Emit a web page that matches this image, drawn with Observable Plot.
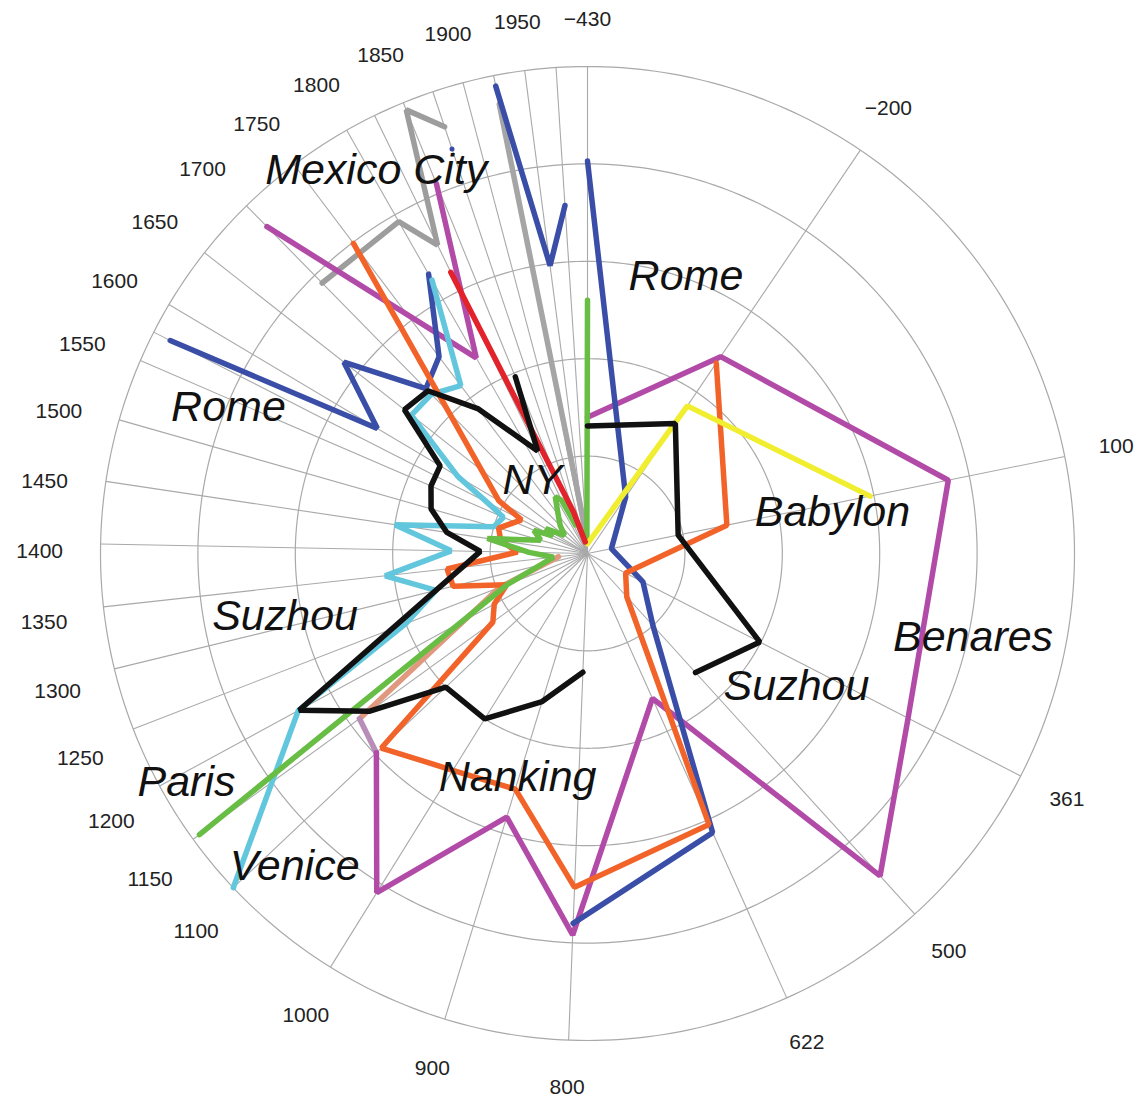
<!DOCTYPE html>
<html><head><meta charset="utf-8">
<script src="https://cdn.jsdelivr.net/npm/d3@7"></script>
<script src="https://cdn.jsdelivr.net/npm/@observablehq/plot@0.6"></script>
<style>body{margin:0;background:#fff}#chart svg{display:block}</style>
</head><body><div id="chart"></div>
<script>
// ---------- data ----------
const spokeYears = [-430,-200,100,361,500,622,800,900,1000,1100,1150,1200,1250,1300,1350,1400,1450,1500,1550,1575,1600,1650,1700,1750,1800,1825,1850,1875,1900,1925,1950,1975];
const tickYears = [-430,-200,100,361,500,622,800,900,1000,1100,1150,1200,1250,1300,1350,1400,1450,1500,1550,1600,1650,1700,1750,1800,1850,1900,1950];
const tickLabels = ["\u2212430","\u2212200","100","361","500","622","800","900","1000","1100","1150","1200","1250","1300","1350","1400","1450","1500","1550","1600","1650","1700","1750","1800","1850","1900","1950"];
const ringValues = [1,2,3,4,5];

// each series: [year, value]
const romeEarly = [[-430,4.03],[-200,0.7],[100,0.25],[361,0.64],[500,1.0],[622,3.14],[800,3.8]];
const benaresNanking = [[-430,1.4],[-200,2.44],[100,3.78],[361,3.7],[500,4.47],[622,1.63],[800,3.92],[900,2.83],[1000,4.1],[1100,2.98]];
const mauveLink = [[1100,2.98],[1150,2.89]];
const babylon = [[-430,0.1],[-200,1.83],[100,2.96]];
const suzhouEarly = [[-430,1.31],[-200,1.61],[100,0.95],[361,1.99],[500,1.65]];
const orangeCity = [[-200,2.36],[100,1.46],[361,0.44],[500,0.6],[622,3.05],[800,3.43],[900,2.53],[1000,2.62],[1100,2.91],[1150,1.2],[1200,1.09],[1250,0.89],[1300,1.42],[1350,1.45],[1400,0.72],[1450,0.9],[1500,0.95],[1575,0.76],[1600,1.06],[1750,3.99]];
const suzhouLate = [[800,1.22],[900,1.59],[1000,2.0],[1100,2.0],[1150,2.76],[1200,3.37],[1400,1.1],[1450,1.46],[1500,1.67],[1550,1.75],[1600,1.76],[1650,2.39],[1700,2.34],[1750,1.86],[1825,1.17],[1850,1.96]];
const venice = [[1100,5.0],[1200,3.38],[1250,2.0],[1300,1.6],[1350,2.09],[1400,1.4],[1450,2.0],[1500,1.0],[1550,0.94],[1575,1.16],[1600,1.55],[1650,2.3],[1700,2.29],[1750,2.16],[1800,3.23]];
const paris = [[1150,4.92],[1250,0.88],[1300,0.5],[1350,0.35],[1400,0.6],[1450,1.04],[1500,0.5],[1550,0.6],[1575,0.4],[1600,0.5],[1650,0.3],[1700,0.4],[1750,0.5],[1800,0.67],[1825,0.61],[1850,0.3],[1875,0.35],[1900,0.2],[1925,0.15],[1950,0.2],[1975,0.1],[2000,2.6]];
const romeLate = [[1575,4.81],[1600,2.51],[1650,3.18],[1700,2.37],[1750,2.53],[1800,3.3]];
const mexicoCity = [[1700,3.89],[1800,3.92],[1825,3.52],[1850,4.92],[1875,4.62]];
const purpleLate = [[1700,4.7],[1800,2.31],[1850,4.1]];
const newYork = [[1825,3.21],[1875,0.45],[1925,0.12]];
const grayModern = [[1925,4.7],[1975,0.2]];
const blueModern = [[1925,4.89],[1950,2.98],[1975,3.58]];
const blueSingle = [[1875,4.38]];
const salmonCity = [[1150,2.89],[1250,0.97],[1350,0.3]];

// city labels: [name, angle-year, value]
const cityNames = ["Mexico City","Rome","Rome","NY","Babylon","Benares","Suzhou","Suzhou","Paris","Nanking","Venice"];
const cityAnchorYears = [1805,-298,1542,1750,113,260,1314,396,1192,902,1076];
const cityAnchorValues = [4.49,3.02,3.98,0.94,2.55,4.05,3.17,2.54,4.74,2.41,4.40];

// ---------- layout ----------
const W = 1140, H = 1103, CX = 587, CY = 553, UNIT = 97.4;
const ang = (yr) => (yr + 430) / 2430 * 2 * Math.PI;
const px = (yr, v) => v * Math.sin(ang(yr));
const py = (yr, v) => v * Math.cos(ang(yr));

const ringPts = ringValues.flatMap(v => d3.range(0, 361, 1).map(a => ({v, x: v*Math.sin(a*Math.PI/180), y: v*Math.cos(a*Math.PI/180)})));

const seriesStyles = [
  [mexicoCity, "#9d9d9d"],
  [grayModern, "#a5a5a5"],
  [salmonCity, "#e0987e"],
  [mauveLink, "#b88db7"],
  [benaresNanking, "#b24ba8"],
  [purpleLate, "#b24ba8"],
  [romeEarly, "#3a4ea8"],
  [romeLate, "#3a4ea8"],
  [blueModern, "#3a4ea8"],
  [venice, "#62c7dd"],
  [orangeCity, "#f2632a"],
  [paris, "#68bd45"],
  [babylon, "#f0ee2e"],
  [newYork, "#e2232b"],
  [suzhouEarly, "#111111"],
  [suzhouLate, "#111111"]
];

const font = "'Liberation Sans', Arial, Helvetica, sans-serif";
// tick-label placement (slightly further out and rotated on the left half)
const labAng = (yr) => { const a = ang(yr), s = Math.sin(a); return s < 0 ? a + 0.016 * s : a; };
const labR = (yr) => { const s = Math.sin(ang(yr)); return s < 0 ? 5.48 + 0.145 * (-s) : 5.48 + 0.06 * s; };
const lx = (yr) => labR(yr) * Math.sin(labAng(yr));
const ly = (yr) => labR(yr) * Math.cos(labAng(yr));

const marks = [
  Plot.line(ringPts, {x: "x", y: "y", z: "v", stroke: "#a9a9a9", strokeWidth: 1.2}),
  Plot.link(spokeYears, {x1: () => 0, y1: () => 0, x2: d => px(d, 5), y2: d => py(d, 5), stroke: "#a9a9a9", strokeWidth: 1.1}),
  ...seriesStyles.map(([data, color]) => Plot.line(data, {
    x: d => px(d[0], d[1]), y: d => py(d[0], d[1]),
    stroke: color, strokeWidth: 5.5, strokeLinejoin: "miter", strokeLinecap: "round"
  })),
  Plot.dot(blueSingle, {x: d => px(d[0], d[1]), y: d => py(d[0], d[1]), r: 2.5, fill: "#3a4ea8"}),
  Plot.text(tickYears, {
    x: d => lx(d), y: d => ly(d),
    text: (d, i) => tickLabels[i], fontSize: 21, fill: "#222", fontFamily: font
  }),
  Plot.text(cityNames, {
    x: (d, i) => px(cityAnchorYears[i], cityAnchorValues[i]),
    y: (d, i) => py(cityAnchorYears[i], cityAnchorValues[i]),
    text: d => d, fontSize: 43, fontStyle: "italic", fill: "#111", fontFamily: font
  })
];

const chart = Plot.plot({
  width: W, height: H,
  margin: 0,
  x: {domain: [-CX / UNIT, (W - CX) / UNIT], axis: null},
  y: {domain: [-(H - CY) / UNIT, CY / UNIT], axis: null},
  style: {fontFamily: font, background: "#fff"},
  marks
});
document.getElementById("chart").appendChild(chart);
</script>
</body></html>
